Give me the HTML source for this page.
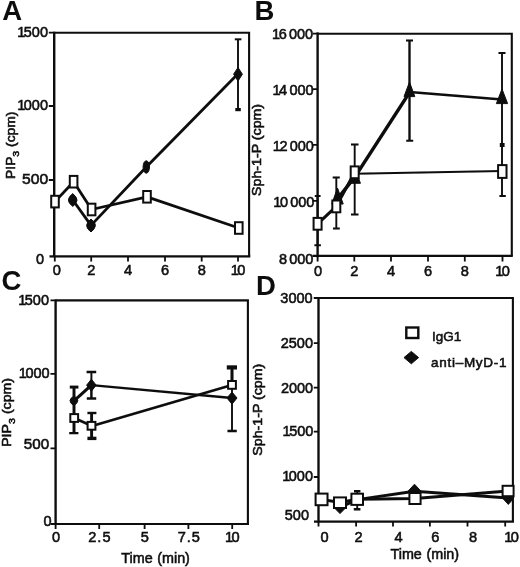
<!DOCTYPE html>
<html>
<head>
<meta charset="utf-8">
<title>Figure</title>
<style>
html,body{margin:0;padding:0;background:#fff;}
body{width:520px;height:567px;overflow:hidden;}
svg{display:block;}
text{font-family:"Liberation Sans",sans-serif;fill:#0c0c0c;}
.t{font-size:14px;stroke:#0c0c0c;stroke-width:0.55px;word-spacing:-1.3px;}
.xt{font-size:14.6px;}
.yt{font-size:14.5px;word-spacing:-1.8px;}
.pl{font-size:27.5px;font-weight:bold;}
.ax{stroke:#0c0c0c;fill:none;}
.ln{stroke:#0c0c0c;fill:none;stroke-linejoin:round;stroke-linecap:round;}
.sq{fill:#fff;stroke:#0c0c0c;}
.fd{fill:#0c0c0c;stroke:#0c0c0c;stroke-width:1;stroke-linejoin:round;}
.eb{stroke:#0c0c0c;fill:none;}
.cap{stroke:#0c0c0c;fill:none;}
</style>
</head>
<body>
<svg width="520" height="567" viewBox="0 0 520 567">
<defs><filter id="bl" x="0" y="0" width="520" height="567" filterUnits="userSpaceOnUse"><feGaussianBlur stdDeviation="0.45"/></filter></defs>
<rect x="0" y="0" width="520" height="567" fill="#ffffff"/>
<g filter="url(#bl)">

<!-- ================= PANEL A ================= -->
<g id="pA">
<text class="pl" x="2.2" y="20.2">A</text>
<!-- frame -->
<path class="ax" stroke-width="2.1" d="M54.5 32.7H249.1V256"/>
<path class="ax" stroke-width="2.4" d="M54.2 31.8V257.2"/>
<path class="ax" stroke-width="2.2" d="M49.5 256.3H250.3"/>
<!-- y ticks -->
<path class="ax" stroke-width="1.8" d="M48.8 32.7H55M48.8 106H55M48.8 180H55"/>
<!-- x ticks -->
<path class="ax" stroke-width="1.8" d="M54.8 256V261.5M91.2 256V261.5M128 256V261.5M165 256V261.5M201.7 256V261.5M238 256V261.5"/>
<!-- y labels -->
<g class="t yt" text-anchor="end">
<text x="48" y="36.6">1<tspan dx="-1.5">500</tspan></text>
<text x="48" y="109.9">1<tspan dx="-1.5">000</tspan></text>
<text x="48.2" y="184.2" textLength="26.2" lengthAdjust="spacingAndGlyphs">500</text>
<text x="44.2" y="263.8">0</text>
</g>
<!-- x labels -->
<g class="t xt" text-anchor="middle">
<text x="56.7" y="274.5">0</text>
<text x="91.2" y="274.5">2</text>
<text x="128" y="274.5">4</text>
<text x="165" y="274.5">6</text>
<text x="201.7" y="274.5">8</text>
<text x="238" y="274.5">1<tspan dx="-1.5">0</tspan></text>
</g>
<!-- y title -->
<text class="t" style="font-size:12.5px;word-spacing:0" transform="translate(15 145.3) rotate(-90)" text-anchor="middle" textLength="67.2" lengthAdjust="spacingAndGlyphs">PIP<tspan font-size="9.5" dy="4">3</tspan><tspan dy="-4"> (cpm)</tspan></text>
<!-- error bar -->
<path class="eb" stroke-width="1.9" d="M238 39V110"/>
<path class="cap" stroke-width="2" d="M234.8 39.3H241.4"/>
<path class="cap" stroke-width="3.2" d="M235.3 109.6H240.8"/>
<!-- lines -->
<path class="ln" stroke-width="2.8" d="M72.8 200L91 225.4L146.3 167L238 73.8"/>
<path class="ln" stroke-width="2.8" d="M55 201.6L73.6 181.7L91.6 209.5L147 196.8L238.8 228"/>
<!-- diamonds -->
<g class="fd">
<path d="M72.8 193.6Q77.6 198 77 200.4Q76.4 204 72.8 206.4Q68.4 203.4 68.4 200Q68.6 196.6 72.8 193.6Z"/>
<path d="M91 219Q95.8 223.4 95.4 225.6Q95 229 91 232Q86.6 228.8 86.6 225.4Q86.8 222.2 91 219Z"/>
<ellipse cx="146.3" cy="167" rx="3.2" ry="6.2"/>
<path d="M238 67.5L242.4 74.2L238 81L233.6 74.2Z"/>
</g>
<!-- squares -->
<g class="sq" stroke-width="2">
<rect x="51.2" y="195.8" width="7.6" height="11.6"/>
<rect x="69.8" y="175.9" width="7.6" height="11.6"/>
<rect x="87.8" y="203.7" width="7.6" height="11.6"/>
<rect x="143.2" y="191" width="7.6" height="11.6"/>
<rect x="235" y="222.2" width="7.6" height="11.6"/>
</g>
</g>

<!-- ================= PANEL B ================= -->
<g id="pB">
<text class="pl" x="254.6" y="20.2">B</text>
<path class="ax" stroke-width="2.1" d="M317.5 33.7H511.8V256"/>
<path class="ax" stroke-width="2.4" d="M317.6 32.4V257.2"/>
<path class="ax" stroke-width="2.2" d="M312.5 255.9H512.8"/>
<path class="ax" stroke-width="1.8" d="M312.5 33.7H318M312.5 89.2H318M312.5 144.8H318M312.5 200.8H318"/>
<path class="ax" stroke-width="1.8" d="M317.6 256V261.5M354.3 256V261.5M391 256V261.5M428 256V261.5M464.8 256V261.5M502.5 256V261.5"/>
<g class="t yt" text-anchor="end">
<text x="313.2" y="39.3">1<tspan dx="-1.5">6 000</tspan></text>
<text x="313.6" y="94.9">1<tspan dx="-1.5">4 000</tspan></text>
<text x="313.9" y="150.5">1<tspan dx="-1.5">2 000</tspan></text>
<text x="314.4" y="206.6">1<tspan dx="-1.5">0 000</tspan></text>
<text x="313.4" y="263.6">8 000</text>
</g>
<g class="t xt" text-anchor="middle">
<text x="318" y="275.6">0</text>
<text x="354.3" y="275.6">2</text>
<text x="391" y="275.6">4</text>
<text x="428" y="275.6">6</text>
<text x="464.8" y="275.6">8</text>
<text x="502.5" y="275.6">1<tspan dx="-1.5">0</tspan></text>
</g>
<text class="t" style="font-size:12.5px;word-spacing:0" transform="translate(260.9 149.9) rotate(-90)" text-anchor="middle" textLength="92" lengthAdjust="spacingAndGlyphs">Sph-1-P (cpm)</text>
<!-- error bars -->
<path class="eb" stroke-width="1.9" d="M317.6 196V245.3M336.3 177.6V228.4M354.7 144.5V214.6M502 144.5V195.8M502 53V144.5"/>
<path class="eb" stroke-width="2.4" d="M409.5 40.5V140.8"/>
<path class="cap" stroke-width="2" d="M314.8 196H320.6M314.4 245.3H320.9M332.7 177.6H339.8M333 228.4H339.8M351 144.5H358.5M351 214.6H358.5M499.4 196H505.8M406 40.6H413M406.2 140.8H413.2M498.5 53H505.5"/>
<path class="cap" stroke-width="4" d="M499.8 145H504.6"/>
<!-- triangle series line -->
<path class="ln" stroke-width="3.6" d="M338.5 197.5L355.2 176.5"/>
<path class="ln" stroke-width="3.3" d="M355.2 176.5L409.5 92.5"/>
<path class="ln" stroke-width="2.4" d="M409.5 92L502 99.5"/>
<!-- square series line -->
<path class="ln" stroke-width="3" d="M317.6 223.8L336.3 206.4L354.7 172.3"/>
<path class="ln" stroke-width="2" d="M354.7 173.8L502 171"/>
<!-- triangles -->
<g class="fd">
<path d="M337.5 188L343.2 204H331.8Z"/>
<path d="M354.6 167L360.4 183.3H348.8Z"/>
<path d="M409.5 82L414.8 96.6H404Z"/>
<path d="M502 89L507.6 103.6H496.4Z"/>
</g>
<g class="sq" stroke-width="2">
<rect x="313.6" y="217.9" width="8" height="11.8"/>
<rect x="332.3" y="200.5" width="8" height="11.8"/>
<rect x="350.7" y="166.4" width="8" height="11.8"/>
<rect x="498.1" y="165.1" width="8.4" height="12.8"/>
</g>
</g>

<!-- ================= PANEL C ================= -->
<g id="pC">
<text class="pl" x="1.6" y="290">C</text>
<path class="ax" stroke-width="2.1" d="M55.5 300.4H247.9V524"/>
<path class="ax" stroke-width="2.4" d="M55.6 299.5V525"/>
<path class="ax" stroke-width="2.2" d="M50.5 524H249"/>
<path class="ax" stroke-width="1.8" d="M50.5 300.4H56M50.5 373.8H56M50.5 448.3H56"/>
<path class="ax" stroke-width="1.8" d="M55.6 524V529M99.2 524V529M144.6 524V529M188.4 524V529M232.2 524V529"/>
<g class="t yt" text-anchor="end">
<text x="49" y="305.3">1<tspan dx="-1.5">500</tspan></text>
<text x="49.6" y="377.8">1<tspan dx="-1.5">000</tspan></text>
<text x="49.2" y="449.2" textLength="25.4" lengthAdjust="spacingAndGlyphs">500</text>
<text x="51.6" y="526.4">0</text>
</g>
<g class="t xt" text-anchor="middle">
<text x="56" y="541.8">0</text>
<text x="99.4" y="541.8" textLength="22.2" lengthAdjust="spacing">2.5</text>
<text x="144.8" y="541.8">5</text>
<text x="188.9" y="541.8" textLength="22.2" lengthAdjust="spacing">7.5</text>
<text x="232.3" y="541.8">1<tspan dx="-1.5">0</tspan></text>
</g>
<text class="t" style="font-size:12.5px;word-spacing:0" transform="translate(10.9 412.4) rotate(-90)" text-anchor="middle" textLength="68.9" lengthAdjust="spacingAndGlyphs">PIP<tspan font-size="9.5" dy="4">3</tspan><tspan dy="-4"> (cpm)</tspan></text>
<text class="t" style="font-size:14.5px;word-spacing:0.6px" x="155.6" y="562.5" text-anchor="middle" textLength="68.6" lengthAdjust="spacingAndGlyphs">Time (min)</text>
<!-- error bars -->
<path class="eb" stroke-width="1.9" d="M91.4 372V385M232 380V431"/>
<path class="eb" stroke-width="2.9" d="M74 386.5V432.9M91.6 412V439.3"/>
<path class="eb" stroke-width="2.5" d="M91.4 385V398"/>
<path class="cap" stroke-width="3" d="M69.8 387.1H78.4"/>
<path class="cap" stroke-width="2.3" d="M86.6 372H96.2M86.8 398.5H96.2M69.2 433.2H78.4M227.5 431H236.8"/>
<path class="cap" stroke-width="2.4" d="M87.4 413H96.4"/>
<path class="cap" stroke-width="3.4" d="M87.4 438.4H96.4"/>
<path class="cap" stroke-width="4.2" d="M226.8 367.4H237"/>
<path class="cap" stroke-width="3" d="M232 367V381"/>
<!-- lines -->
<path class="ln" stroke-width="3.1" d="M74 400.8L91.4 385.2"/>
<path class="ln" stroke-width="2.3" d="M91.4 385.2L232 398"/>
<path class="ln" stroke-width="2.6" d="M74.2 418L92 426L232 385"/>
<g class="fd">
<path d="M74 396.2Q77.8 398 77.8 400.6Q77.6 403.4 74 405.6Q70 403.4 70 400.6Q70.2 398 74 396.2Z"/>
<path d="M91.4 379.2L96.2 385.2L91.4 391.2L86.6 385.2Z"/>
<path d="M232 392L237 398L232 404.2L227 398Z"/>
</g>
<g class="sq" stroke-width="2">
<rect x="70.3" y="414.1" width="7.8" height="7.8"/>
<rect x="87.6" y="421.9" width="7.8" height="7.8"/>
<rect x="228.1" y="381" width="7.8" height="7.8"/>
</g>
</g>

<!-- ================= PANEL D ================= -->
<g id="pD">
<text class="pl" x="256" y="295">D</text>
<path class="ax" stroke-width="2.1" d="M318.4 298H512.9V522"/>
<path class="ax" stroke-width="2.4" d="M318.5 297.2V522.6"/>
<path class="ax" stroke-width="2.2" d="M314 521.6H514"/>
<path class="ax" stroke-width="1.8" d="M313.8 298H319M313.8 343.2H319M313.8 387.7H319M313.8 431.6H319M313.8 477H319"/>
<path class="ax" stroke-width="1.8" d="M318.5 521.6V526.6M356.1 521.6V526.6M393 521.6V526.6M429.9 521.6V526.6M467.5 521.6V526.6M505.2 521.6V526.6"/>
<g class="t yt" text-anchor="end">
<text x="312.6" y="303">3000</text>
<text x="313" y="348">2500</text>
<text x="313.2" y="393">2000</text>
<text x="313.4" y="436">1<tspan dx="-1.5">500</tspan></text>
<text x="313" y="480.6">1<tspan dx="-1.5">000</tspan></text>
<text x="309" y="520">500</text>
</g>
<g class="t xt" text-anchor="middle">
<text x="324.5" y="541.8">0</text>
<text x="358.5" y="541.8">2</text>
<text x="398.6" y="541.8">4</text>
<text x="435.3" y="541.8">6</text>
<text x="473" y="541.8">8</text>
<text x="511.6" y="541.8">1<tspan dx="-1.5">0</tspan></text>
</g>
<text class="t" style="font-size:12.5px;word-spacing:0" transform="translate(261.7 409.7) rotate(-90)" text-anchor="middle" textLength="92" lengthAdjust="spacingAndGlyphs">Sph-1-P (cpm)</text>
<text class="t" style="font-size:14.5px;word-spacing:0.6px" x="424.8" y="559" text-anchor="middle" textLength="68.6" lengthAdjust="spacingAndGlyphs">Time (min)</text>
<!-- legend -->
<rect class="sq" stroke-width="2.4" x="406.3" y="327.5" width="12" height="10.5"/>
<path class="fd" d="M411.3 351.4L418.6 357.6L411.3 363.8L404 357.6Z"/>
<text class="t" style="font-size:13.5px" x="432" y="341.4">IgG1</text>
<text class="t" style="font-size:13.5px" x="431" y="367" textLength="75.5" lengthAdjust="spacing">anti–MyD-1</text>
<!-- error bars -->
<path class="eb" stroke-width="1.9" d="M357.2 491V509.2"/>
<path class="cap" stroke-width="2.4" d="M354 491.2H360.4M353.8 509.2H360.4"/>
<!-- lines -->
<path class="ln" stroke-width="2.9" d="M340 507.4L357.2 499.6L414.5 491.2L508.3 498"/>
<path class="ln" stroke-width="2.9" d="M321.5 499.4L340 502.5L357.2 499.2L415 498.5L508 491"/>
<g class="fd">
<path d="M340 501L346 507.4L340 513.6L334 507.4Z"/>
<path d="M414.5 484.2L421 491.2L414.5 498L408 491.2Z"/>
<path d="M508.3 491.4L514 498L508.3 504.4L502.4 498Z"/>
</g>
<g class="sq" stroke-width="2">
<rect x="315.6" y="493.6" width="11.9" height="11.6"/>
<rect x="334" y="497.4" width="12" height="10.6"/>
<rect x="351.4" y="493.7" width="11.6" height="11.2"/>
<rect x="409.4" y="493" width="11.2" height="11"/>
<rect x="502.6" y="485.8" width="11" height="10.4"/>
</g>
</g>

</g>
</svg>
</body>
</html>
